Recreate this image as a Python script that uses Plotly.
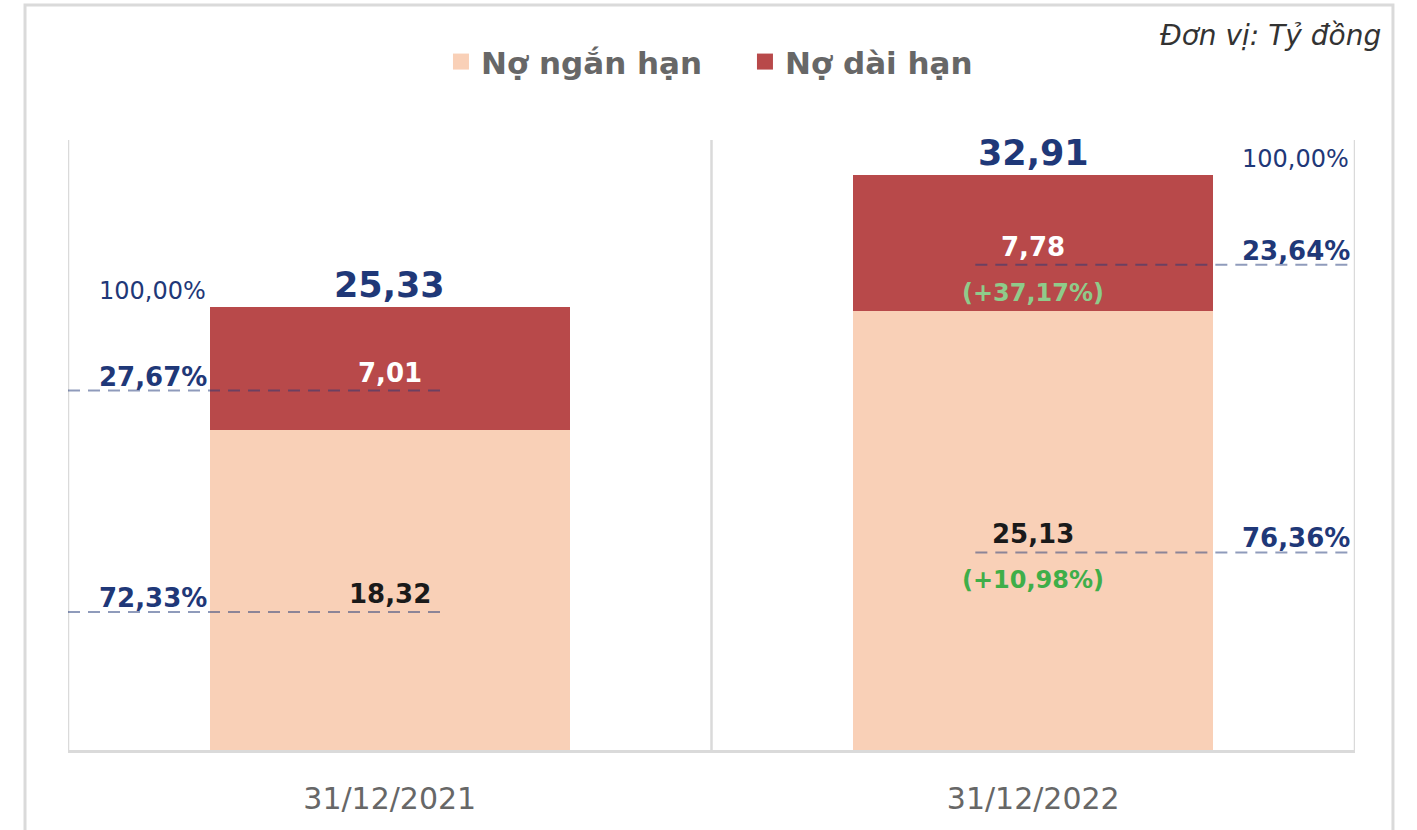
import plotly.graph_objects as go

# ---------------- data ----------------
categories = ["31/12/2021", "31/12/2022"]
short_term = [18.32, 25.13]          # Nợ ngắn hạn
long_term = [7.01, 7.78]             # Nợ dài hạn
totals = [25.33, 32.91]
short_pct = ["72,33%", "76,36%"]
long_pct = ["27,67%", "23,64%"]
total_pct = ["100,00%", "100,00%"]
growth_short = [None, "(+10,98%)"]
growth_long = [None, "(+37,17%)"]
series_names = ["Nợ ngắn hạn", "Nợ dài hạn"]
unit_label = "Đơn vị: Tỷ đồng"

# ---------------- styles ----------------
FONT = "DejaVu Sans"
C_SHORT = "#F9D0B7"
C_LONG = "#B8494A"
C_NAVY = "#1F3878"
C_GREY = "#676767"
C_GRID = "#DADADA"
C_DASH = "rgba(31,56,120,0.5)"
C_GREEN_LIGHT = "#8FCB8A"
C_GREEN = "#3FAE49"
BAR_W = 0.56


def fmt(v):
    return f"{v:.2f}".replace(".", ",")


x = list(range(len(categories)))

fig = go.Figure()
fig.add_trace(go.Bar(x=x, y=short_term, width=BAR_W, marker_color=C_SHORT,
                     marker_line_width=0, name=series_names[0], showlegend=False,
                     hoverinfo="skip"))
fig.add_trace(go.Bar(x=x, y=long_term, width=BAR_W, marker_color=C_LONG,
                     marker_line_width=0, name=series_names[1], showlegend=False,
                     hoverinfo="skip"))
# legend proxies (larger square markers)
for nm, col in zip(series_names, [C_SHORT, C_LONG]):
    fig.add_trace(go.Scatter(x=[None], y=[None], mode="markers", name=nm,
                             marker=dict(symbol="square", size=16, color=col)))

annotations = []
shapes = []

# category dividers
for b in [-0.5, 0.5, 1.5]:
    shapes.append(dict(type="line", xref="x", yref="paper", x0=b, x1=b, y0=0, y1=1,
                       line=dict(color=C_GRID, width=2.5), layer="below"))

LINE_OFF = -22  # px below segment middle

for i in x:
    left_side = (i == 0)
    pct_x = i - 0.368 if left_side else i + 0.408
    lx0, lx1 = (i - 0.5, i + 0.086) if left_side else (i - 0.09, i + 0.5)

    seg = [
        (short_term[i] / 2, short_term[i], short_pct[i], growth_short[i], "#1A1A1A", C_GREEN),
        (short_term[i] + long_term[i] / 2, long_term[i], long_pct[i], growth_long[i], "white", C_GREEN_LIGHT),
    ]
    for mid, val, pct, gr, vcol, gcol in seg:
        annotations.append(dict(x=i, y=mid, xref="x", yref="y", text=fmt(val), showarrow=False,
                                yshift=-4, font=dict(family=FONT, size=26, color=vcol, weight=700)))
        annotations.append(dict(x=pct_x, y=mid, xref="x", yref="y", text=pct, showarrow=False,
                                yshift=-8, font=dict(family=FONT, size=26, color=C_NAVY, weight=700)))
        if gr:
            annotations.append(dict(x=i, y=mid, xref="x", yref="y", text=gr, showarrow=False,
                                    yshift=-50, font=dict(family=FONT, size=24, color=gcol, weight=700)))
        shapes.append(dict(type="line", xref="x", yref="y", ysizemode="pixel", yanchor=mid,
                           x0=lx0, x1=lx1, y0=LINE_OFF, y1=LINE_OFF,
                           line=dict(color=C_DASH, width=2, dash="12px,8px"), layer="above"))

    # totals
    annotations.append(dict(x=i, y=totals[i], xref="x", yref="y", text=fmt(totals[i]), showarrow=False,
                            yshift=22, font=dict(family=FONT, size=35, color=C_NAVY, weight=700)))
    annotations.append(dict(x=pct_x, y=totals[i], xref="x", yref="y", text=total_pct[i], showarrow=False,
                            yshift=16, font=dict(family=FONT, size=24, color=C_NAVY, weight=400)))

# unit label
annotations.append(dict(x=1.0218, y=1.172, xref="paper", yref="paper", xanchor="right", yanchor="middle",
                        text=f"<i>{unit_label}</i>", showarrow=False,
                        font=dict(family=FONT, size=28, color="#333333")))

# outer frame
shapes.append(dict(type="rect", xref="paper", yref="paper", x0=-0.0334, x1=1.0295, y0=-0.2, y1=1.2213,
                   line=dict(color=C_GRID, width=3), fillcolor="rgba(0,0,0,0)", layer="below"))

fig.update_layout(
    width=1417, height=830,
    margin=dict(l=68, r=62, t=140, b=80),
    paper_bgcolor="white", plot_bgcolor="white",
    barmode="stack",
    font=dict(family=FONT),
    xaxis=dict(range=[-0.5, 1.5], tickmode="array", tickvals=x, ticktext=categories,
               showgrid=False, zeroline=False, showline=True, linecolor=C_GRID, linewidth=3,
               ticks="", ticklabelstandoff=20, automargin=False,
               tickfont=dict(family=FONT, size=30, color=C_GREY, weight=400)),
    yaxis=dict(range=[0, 34.9], visible=False, showgrid=False, zeroline=False, automargin=False),
    legend=dict(orientation="h", x=0.526, xanchor="center", y=1.128, yanchor="middle",
                traceorder="normal", font=dict(family=FONT, size=31, color=C_GREY, weight=700),
                itemsizing="trace", itemwidth=30, entrywidth=259, bgcolor="rgba(0,0,0,0)"),
    shapes=shapes,
    annotations=annotations,
    showlegend=True,
)

fig.write_html("out.html", config={"displayModeBar": False},
               post_script="document.body.style.margin='0';")
